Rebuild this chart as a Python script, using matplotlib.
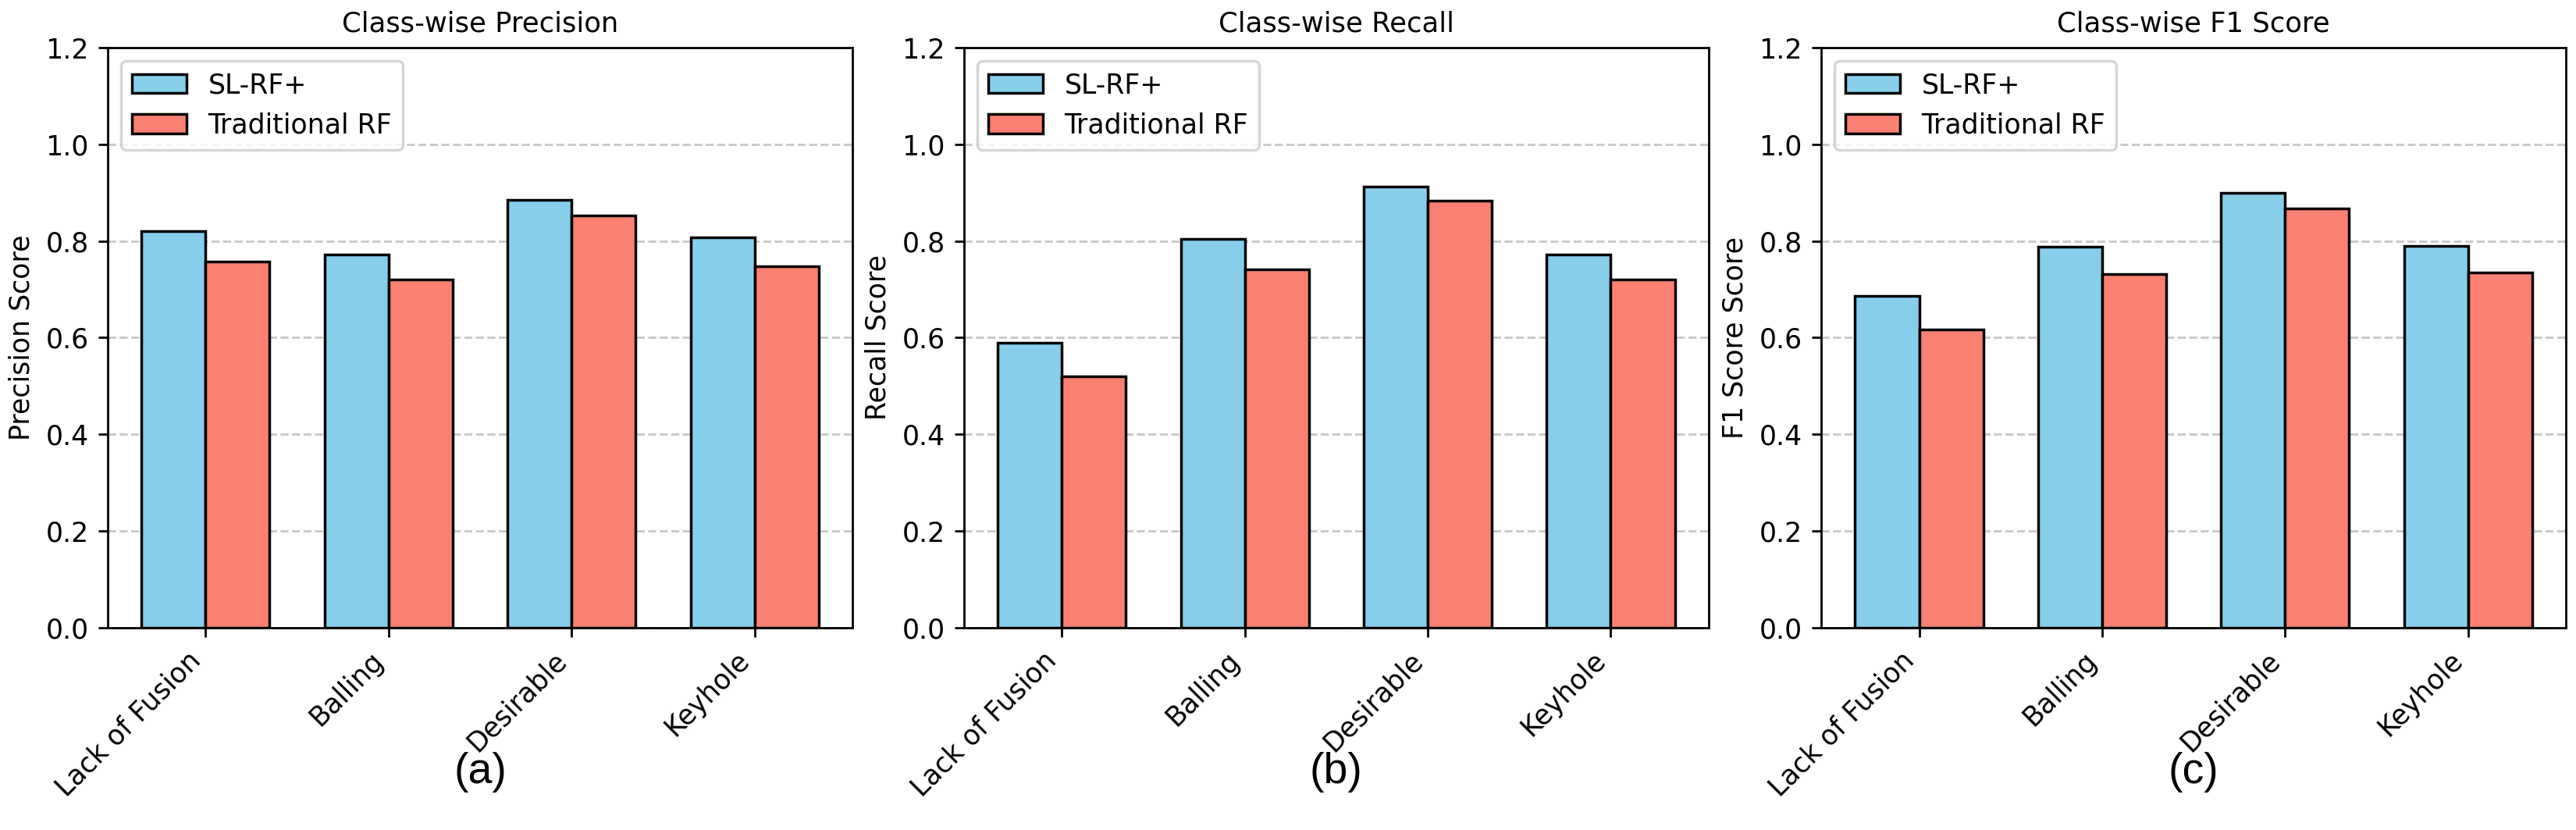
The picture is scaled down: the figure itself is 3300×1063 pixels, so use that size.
import numpy as np
import matplotlib
matplotlib.use("Agg")
import matplotlib.pyplot as plt

classes = ["Lack of Fusion", "Balling", "Desirable", "Keyhole"]
series_names = ["SL-RF+", "Traditional RF"]

precision_slrf = [0.820, 0.772, 0.885, 0.807]
precision_trad = [0.758, 0.720, 0.853, 0.748]
recall_slrf = [0.589, 0.804, 0.912, 0.772]
recall_trad = [0.520, 0.742, 0.884, 0.720]
f1_slrf = [0.686, 0.788, 0.899, 0.789]
f1_trad = [0.617, 0.732, 0.867, 0.735]

titles = ["Class-wise Precision", "Class-wise Recall", "Class-wise F1 Score"]
ylabels = ["Precision Score", "Recall Score", "F1 Score Score"]
panel_tags = ["(a)", "(b)", "(c)"]
yticks = [0.0, 0.2, 0.4, 0.6, 0.8, 1.0, 1.2]

plt.rcParams["font.family"] = ["DejaVu Sans"]
plt.rcParams["font.size"] = 10

DPI = 250
fig = plt.figure(figsize=(3300 / DPI, 1063 / DPI), dpi=DPI)
lefts = [0.0418, 0.3742, 0.7070]
width_ax = 0.2891
bottom = 0.2437
height = 0.9426 - 0.2437

data = [(precision_slrf, precision_trad), (recall_slrf, recall_trad), (f1_slrf, f1_trad)]
x = np.arange(len(classes))
w = 0.35
for i, (a, b) in enumerate(data):
    ax = fig.add_axes([lefts[i], bottom, width_ax, height])
    ax.bar(x - w / 2, a, w, label=series_names[0], color="skyblue", edgecolor="black")
    ax.bar(x + w / 2, b, w, label=series_names[1], color="salmon", edgecolor="black")
    ax.set_xticks(x)
    ax.set_xticklabels(classes, rotation=45, ha="right", fontsize=10)
    ax.set_ylim(0, 1.2)
    ax.set_yticks(yticks)
    ax.tick_params(axis="y", labelsize=10)
    ax.set_title(titles[i], fontsize=10.2)
    ax.set_ylabel(ylabels[i], fontsize=10)
    ax.grid(axis="y", linestyle="--", alpha=0.7)
    ax.set_axisbelow(True)
    ax.legend(loc="upper left", fontsize=10)
    cx = lefts[i] + width_ax / 2
    fig.text(cx, 0.0696, panel_tags[i], ha="center", va="center", fontsize=16,
             family=["Liberation Sans", "DejaVu Sans"])

fig.savefig("out.png", dpi=DPI)
